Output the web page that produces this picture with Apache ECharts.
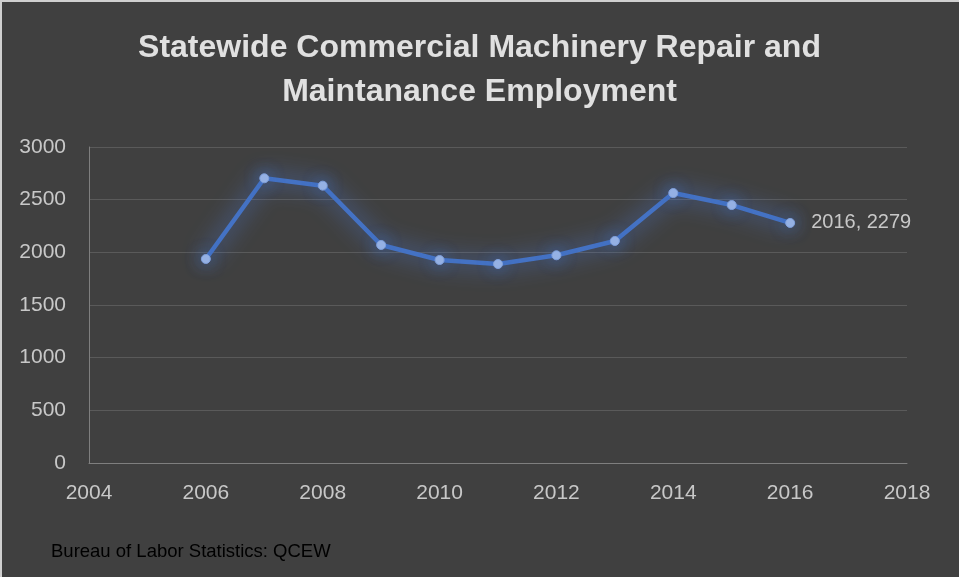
<!DOCTYPE html>
<html>
<head>
<meta charset="utf-8">
<style>
  html, body { margin: 0; padding: 0; background: #404040; }
  #chart { width: 959px; height: 577px; }
</style>
<script src="https://cdn.jsdelivr.net/npm/echarts@6/dist/echarts.min.js"></script>
</head>
<body>
<div id="chart"></div>
<script>
// Annual employment, commercial machinery repair and maintenance
const years = [2006, 2007, 2008, 2009, 2010, 2011, 2012, 2013, 2014, 2015, 2016];
const employment = [1937, 2703, 2633, 2070, 1927, 1889, 1972, 2108, 2563, 2449, 2279];
const yTicks = { min: 0, max: 3000, interval: 500 };
const xTicks = { min: 2004, max: 2018, interval: 2 };
const titleText = 'Statewide Commercial Machinery Repair and\nMaintanance Employment';
const sourceText = 'Bureau of Labor Statistics: QCEW';

const points = years.map((y, i) => [y, employment[i]]);
const lastIndex = points.length - 1;

const chart = echarts.init(document.getElementById('chart'), null, { renderer: 'canvas' });
const FONT = '"Liberation Sans", Arial, sans-serif';
const plain = v => String(v);

chart.setOption({
  backgroundColor: '#404040',
  animation: false,
  title: {
    text: titleText,
    left: 'center',
    top: 21,
    textStyle: {
      color: '#e0e0e0',
      fontFamily: FONT,
      fontWeight: 'bold',
      fontSize: 32,
      lineHeight: 44
    }
  },
  grid: { left: 89, right: 52, top: 147, bottom: 114 },
  xAxis: {
    type: 'value',
    min: xTicks.min,
    max: xTicks.max,
    interval: xTicks.interval,
    axisLine: { show: true, lineStyle: { color: '#7f7f7f', width: 1 } },
    axisTick: { show: false },
    splitLine: { show: false },
    axisLabel: { color: '#c8c8c8', fontFamily: FONT, fontSize: 21, margin: 20, formatter: plain }
  },
  yAxis: {
    type: 'value',
    min: yTicks.min,
    max: yTicks.max,
    interval: yTicks.interval,
    axisLine: { show: true, lineStyle: { color: '#7f7f7f', width: 1 } },
    axisTick: { show: false },
    splitLine: { show: true, lineStyle: { color: '#5a5a5a', width: 1 } },
    axisLabel: { color: '#c8c8c8', fontFamily: FONT, fontSize: 21, margin: 23, formatter: plain }
  },
  series: [{
    type: 'line',
    data: points.map((p, i) => i === lastIndex ? {
      value: p,
      label: {
        show: true,
        position: 'right',
        distance: 16,
        formatter: p[0] + ', ' + p[1],
        color: '#c8c8c8',
        fontFamily: FONT,
        fontSize: 20
      }
    } : p),
    symbol: 'circle',
    symbolSize: 9,
    itemStyle: {
      color: '#9ab5e6',
      borderColor: '#7fa0dc',
      borderWidth: 1,
      shadowColor: 'rgba(68,114,196,1)',
      shadowBlur: 16
    },
    lineStyle: {
      color: '#4472c4',
      width: 4.5,
      shadowColor: 'rgba(80,130,230,1)',
      shadowBlur: 22
    },
    z: 3
  }],
  graphic: [
    { type: 'rect', shape: { x: 0, y: 0, width: 959, height: 2 }, style: { fill: '#d0d0d0' }, silent: true },
    { type: 'rect', shape: { x: 0, y: 0, width: 2, height: 577 }, style: { fill: '#d0d0d0' }, silent: true },
    {
      type: 'text',
      left: 51,
      top: 542,
      style: { text: sourceText, fill: '#000000', font: '18.5px ' + FONT }
    }
  ]
});
</script>
</body>
</html>
